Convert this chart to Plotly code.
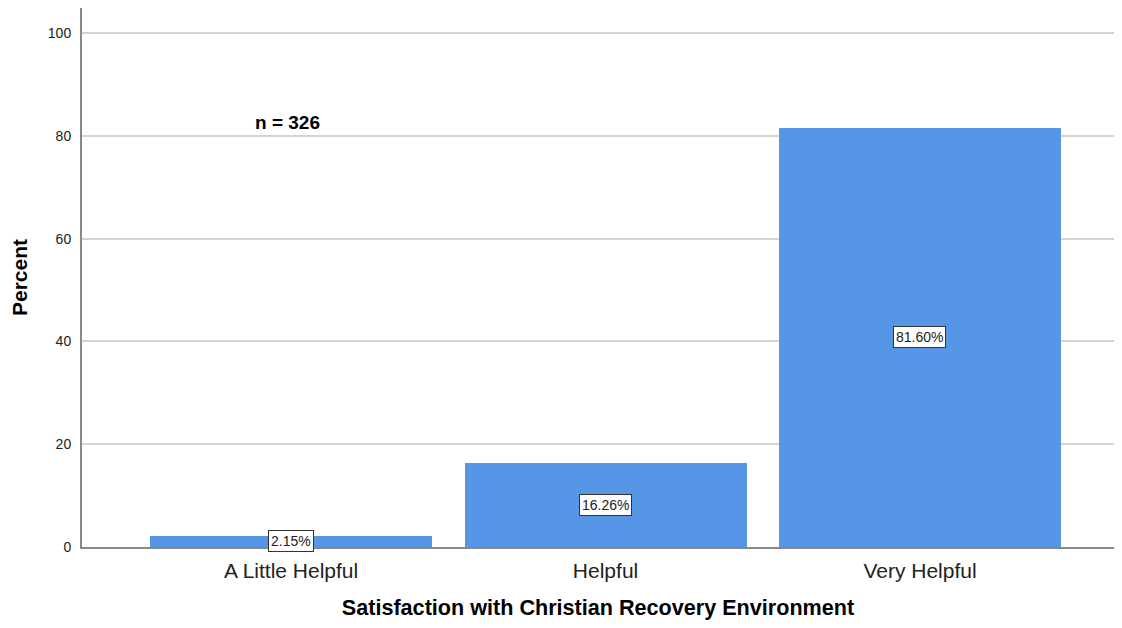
import plotly.graph_objects as go

categories = ["A Little Helpful", "Helpful", "Very Helpful"]
percents = [2.15, 16.26, 81.60]
labels = ["2.15%", "16.26%", "81.60%"]
n_text = "n = 326"
y_ticks = [0, 20, 40, 60, 80, 100]

FONT = "Arial, Liberation Sans, sans-serif"

fig = go.Figure()
fig.add_trace(go.Bar(
    x=categories, y=percents,
    marker=dict(color="#5596E6", line=dict(width=0)),
    width=0.897,
    hoverinfo="skip",
))

for c, v, t in zip(categories, percents, labels):
    fig.add_annotation(
        x=c, y=v / 2, text=t, showarrow=False,
        font=dict(family=FONT, size=14, color="#222222"),
        bgcolor="white", bordercolor="#333333", borderwidth=1, borderpad=2,
    )

fig.add_annotation(
    x=-0.01, y=82.7, xref="x", yref="y", text="<b>" + n_text + "</b>",
    showarrow=False, font=dict(family=FONT, size=19, color="#000000"),
)

fig.update_layout(
    width=1106, height=612,
    margin=dict(l=74, r=0, t=0, b=73),
    paper_bgcolor="white", plot_bgcolor="white",
    showlegend=False,
    font=dict(family=FONT, color="#000000"),
    bargap=0,
)
fig.update_xaxes(
    type="category",
    range=[-0.665, 2.617],
    automargin=False,
    showline=True, linecolor="#888888", linewidth=2,
    showgrid=False, ticks="",
    ticklabelstandoff=4,
    tickfont=dict(family=FONT, size=21, color="#222222"),
    title=dict(text="<b>Satisfaction with Christian Recovery Environment</b>",
               font=dict(family=FONT, size=21.6, color="#000000"), standoff=26),
)
fig.update_yaxes(
    range=[0, 104.9],
    tickvals=y_ticks,
    automargin=False,
    showline=True, linecolor="#888888", linewidth=2,
    showgrid=True, gridcolor="#D3D3D3", gridwidth=2,
    zeroline=False, ticks="",
    ticklabelstandoff=6,
    tickfont=dict(family=FONT, size=14, color="#222222"),
    title=dict(text="<b>Percent</b>", font=dict(family=FONT, size=21, color="#000000"), standoff=22),
)

fig.write_html("out.html")
